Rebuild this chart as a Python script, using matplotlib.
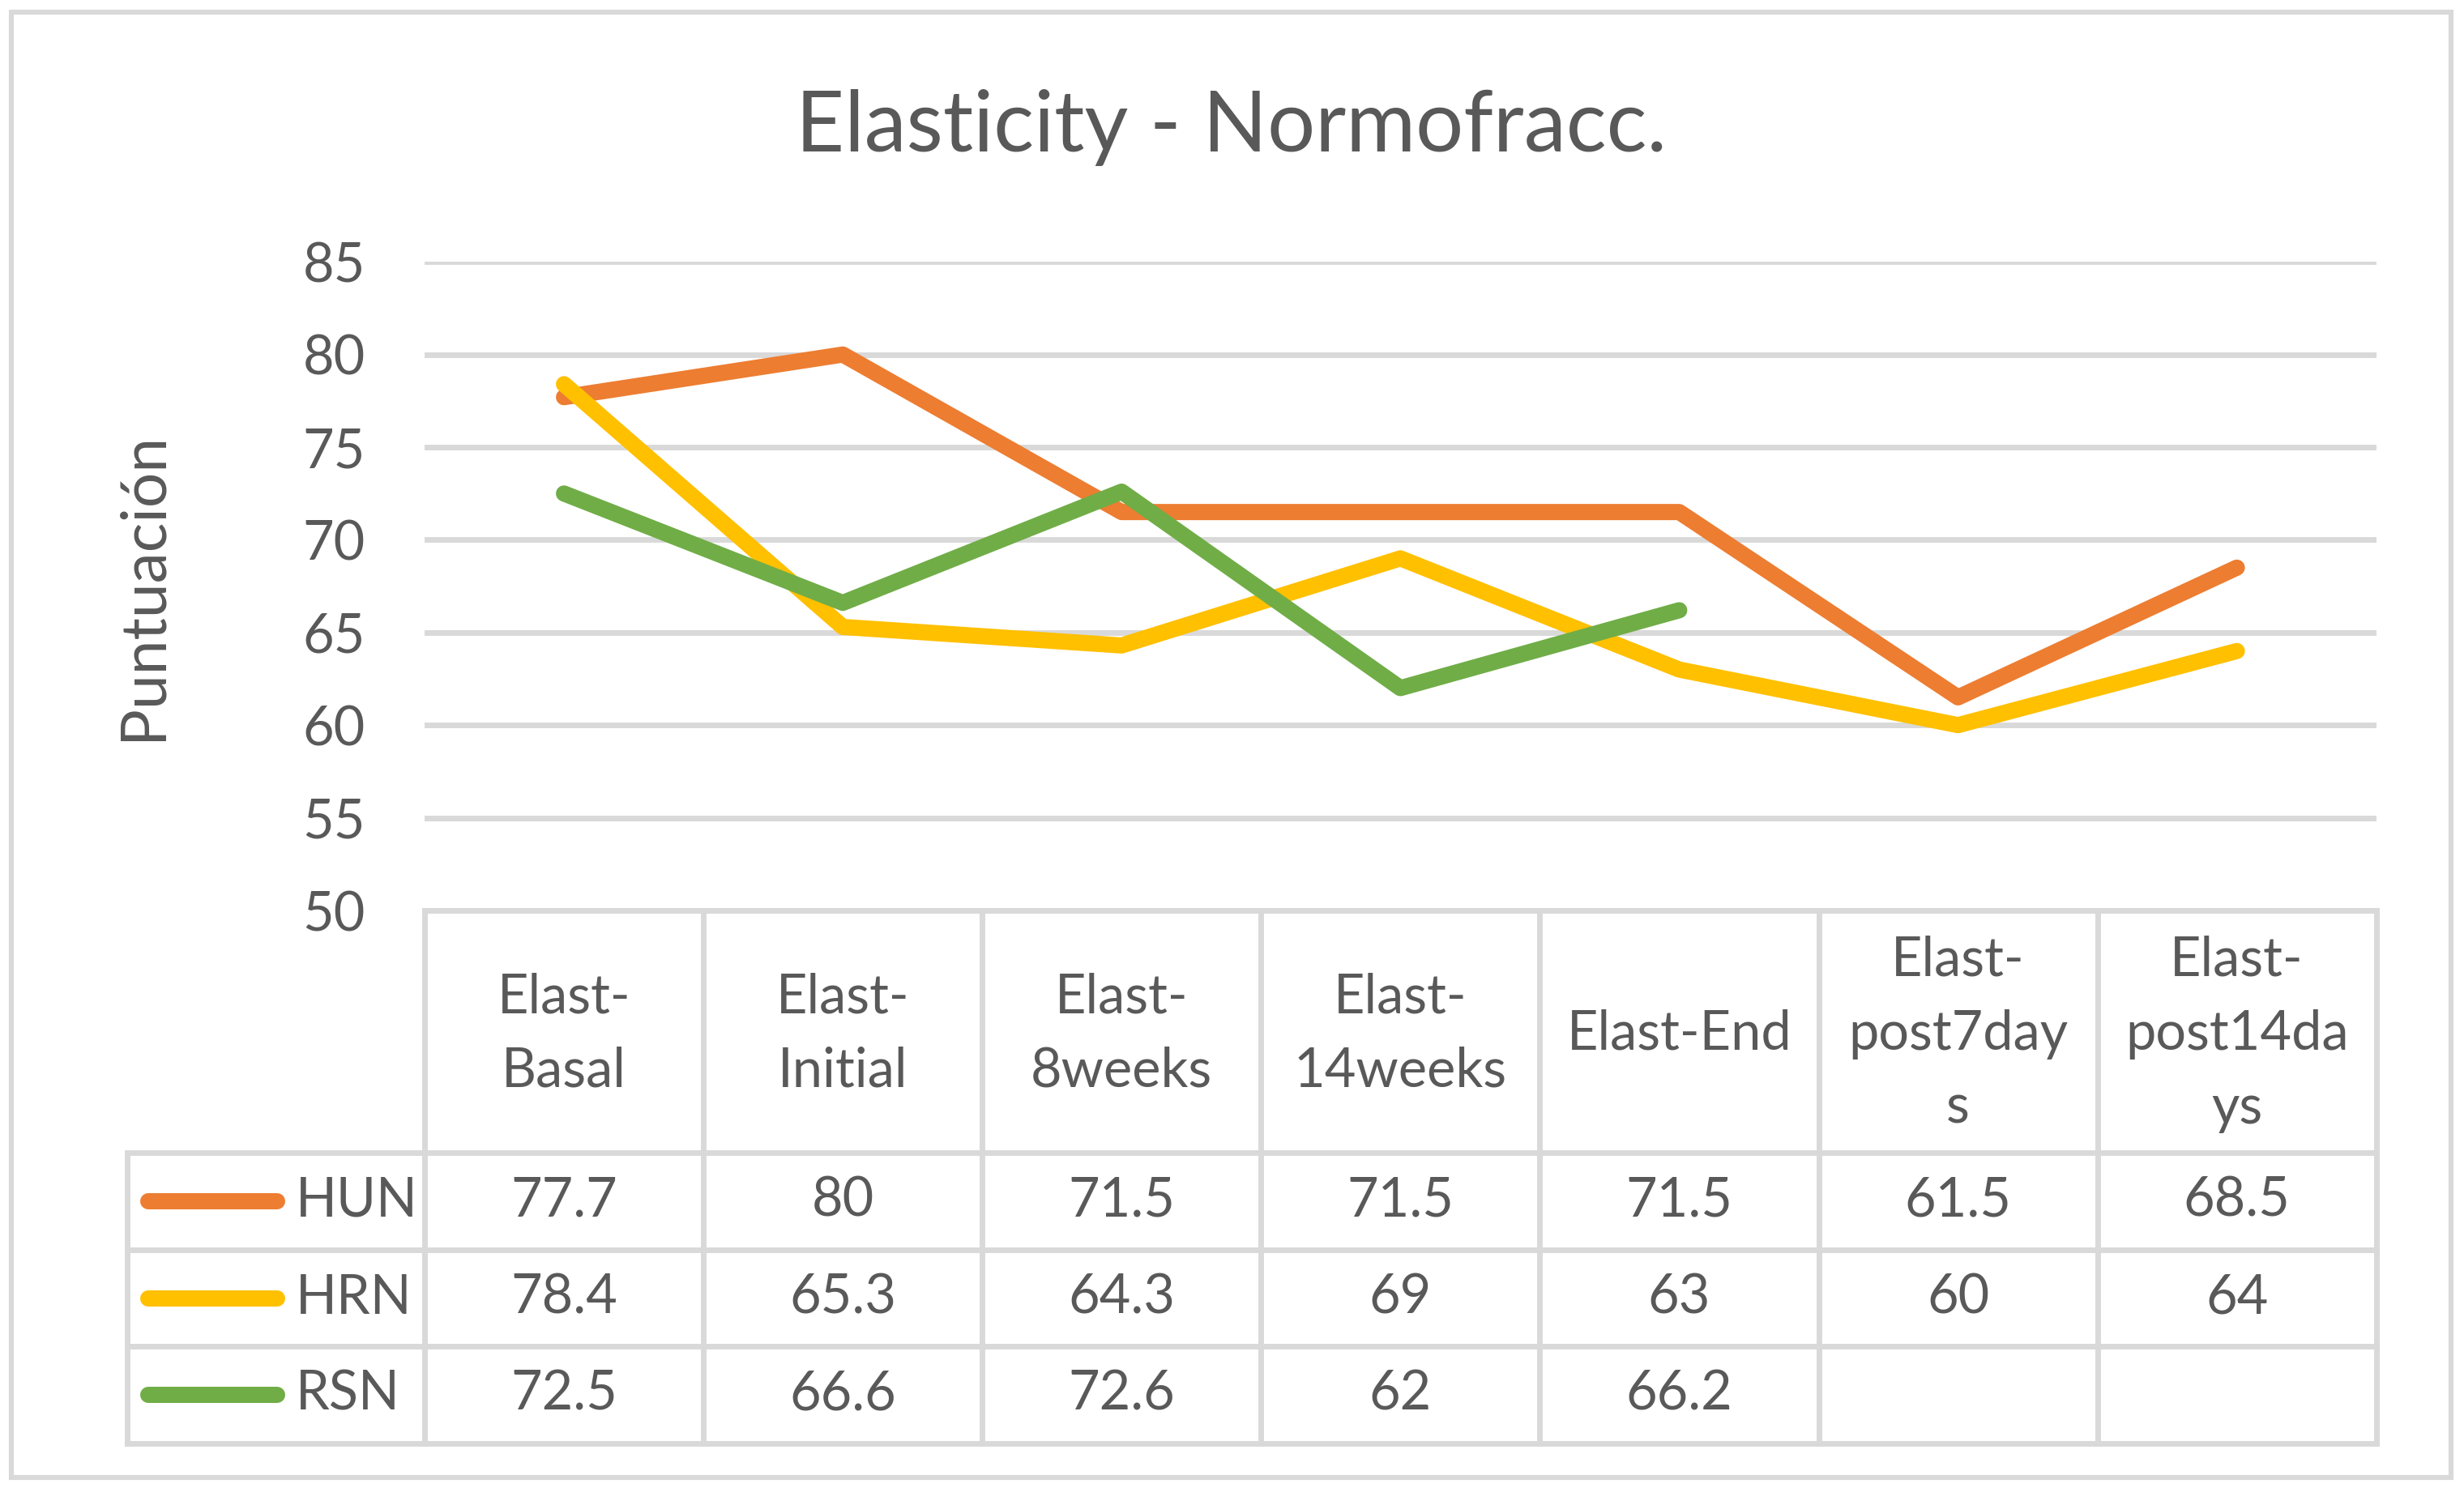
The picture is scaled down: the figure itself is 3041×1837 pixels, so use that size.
import numpy as np
import matplotlib
matplotlib.use("Agg")
import matplotlib.pyplot as plt
from matplotlib.transforms import blended_transform_factory
from matplotlib.patches import Rectangle

# ---------------- data ----------------
categories = ["Elast-\nBasal", "Elast-\nInitial", "Elast-\n8weeks", "Elast-\n14weeks",
              "Elast-End", "Elast-\npost7day\ns", "Elast-\npost14da\nys"]
series_names = ["HUN", "HRN", "RSN"]
hun = [77.7, 80, 71.5, 71.5, 71.5, 61.5, 68.5]
hrn = [78.4, 65.3, 64.3, 69, 63, 60, 64]
rsn = [72.5, 66.6, 72.6, 62, 66.2, None, None]
yticks = [50, 55, 60, 65, 70, 75, 80, 85]
title = "Elasticity - Normofracc."
ylabel = "Puntuación"

series_values = [hun, hrn, rsn]
colors = ["#ED7D31", "#FFC000", "#70AD47"]
TEXT = "#595959"
GRID = "#D9D9D9"
FONT = ["Lato", "DejaVu Sans"]

# ---------------- layout (pixels) ----------------
W, H, DPI = 3041, 1837, 200
AX_L, AX_R, AX_T, AX_B = 524.0, 2932.7, 323.3, 1124.0
ROW_LINES = [1423.3, 1543.3, 1662.3, 1782.0]   # header bottom, row bottoms
LEG_L = 156.7


def ay(py):
    return (AX_B - py) / (AX_B - AX_T)


def axf(px):
    return (px - AX_L) / (AX_R - AX_L)


fig = plt.figure(figsize=(W / DPI, H / DPI), dpi=DPI)
fig.patch.set_facecolor("white")
ax = fig.add_axes([AX_L / W, (H - AX_B) / H, (AX_R - AX_L) / W, (AX_B - AX_T) / H])

n = len(categories)
x = np.arange(n)
ax.set_xlim(-0.5, n - 0.5)
ax.set_ylim(50, 85)

# gridlines
ax.set_yticks(yticks)
ax.yaxis.grid(True, color=GRID, linewidth=2.5, zorder=0)
ax.set_axisbelow(True)
ax.set_xticks([])
ax.tick_params(axis="y", length=0, pad=26.4, labelsize=24, labelcolor=TEXT)
for lab in ax.get_yticklabels():
    lab.set_family(FONT)
for sp in ax.spines.values():
    sp.set_visible(False)

# series lines
for vals, c in zip(series_values, colors):
    y = np.array([np.nan if v is None else v for v in vals], dtype=float)
    ax.plot(x, y, color=c, linewidth=7.2, solid_capstyle="round",
            solid_joinstyle="round", zorder=3, clip_on=False)

# y label
ax.text(axf(199), 0.5, ylabel, transform=ax.transAxes, rotation=90,
        rotation_mode="anchor", ha="center", va="baseline", fontsize=27.6,
        color=TEXT, family=FONT)

# title
fig.text(0.4997, (H - 186.7) / H, title, ha="center", va="baseline",
         fontsize=37.6, color=TEXT, family=FONT)

# ---------------- data table ----------------
bt = blended_transform_factory(ax.transData, ax.transAxes)
lw_t = 2.5
kw = dict(color=GRID, linewidth=lw_t, solid_capstyle="projecting", clip_on=False, zorder=2)

y_top = ay(AX_B)
y_bot = ay(ROW_LINES[-1])
# vertical column lines
for b in np.arange(-0.5, n, 1.0):
    ax.plot([b, b], [y_top, y_bot], transform=bt, **kw)
# legend column left line
ax.plot([axf(LEG_L), axf(LEG_L)], [ay(ROW_LINES[0]), y_bot], transform=ax.transAxes, **kw)
# top line
ax.plot([-0.5, n - 0.5], [y_top, y_top], transform=bt, **kw)
# horizontal row lines
for py in ROW_LINES:
    ax.plot([axf(LEG_L), 1.0], [ay(py), ay(py)], transform=ax.transAxes, **kw)

# header labels (each line placed separately)
PITCH = 91.0
CAP = 47.7
hdr_center = 1272.0
for i, lab in enumerate(categories):
    lines = lab.split("\n")
    m = len(lines)
    for k, t in enumerate(lines):
        base_px = hdr_center + (k - (m - 1) / 2) * PITCH + CAP / 2
        ax.text(i, ay(base_px), t, transform=bt, ha="center", va="baseline",
                fontsize=24, color=TEXT, family=FONT, clip_on=False)

# rows
row_tops = [ROW_LINES[0], ROW_LINES[1], ROW_LINES[2]]
for r, (name, vals, c) in enumerate(zip(series_names, series_values, colors)):
    top = row_tops[r]
    ctr = top + 60.0
    base = top + 78.4
    ax.plot([axf(183), axf(342)], [ay(ctr), ay(ctr)], transform=ax.transAxes,
            color=c, linewidth=7.2, solid_capstyle="round", clip_on=False, zorder=3)
    ax.text(axf(365), ay(base), name, transform=ax.transAxes, ha="left", va="baseline",
            fontsize=24, color=TEXT, family=FONT, clip_on=False)
    for i, v in enumerate(vals):
        if v is None:
            continue
        ax.text(i, ay(base), f"{v:g}", transform=bt, ha="center", va="baseline",
                fontsize=24, color=TEXT, family=FONT, clip_on=False)

# outer chart border
fig.patches.append(Rectangle((14.3 / W, (H - 1824.3) / H), (3025 - 14.3) / W,
                             (1824.3 - 15.3) / H, transform=fig.transFigure,
                             fill=False, edgecolor=GRID, linewidth=2.2, zorder=0))

fig.savefig("out.png", dpi=DPI, facecolor="white")
